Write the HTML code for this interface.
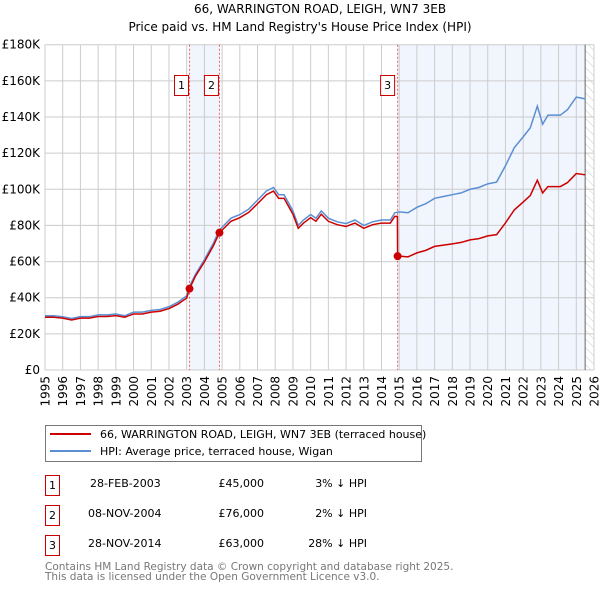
<!DOCTYPE html>
<html><head><meta charset="utf-8"><style>
body{margin:0;background:#fff;font-family:"DejaVu Sans","Liberation Sans",sans-serif;}
svg text{font-family:"DejaVu Sans","Liberation Sans",sans-serif;}
</style></head><body>
<svg id="c" width="600" height="590" xmlns="http://www.w3.org/2000/svg">
<text x="320" y="13" text-anchor="middle" font-size="12">66, WARRINGTON ROAD, LEIGH, WN7 3EB</text>
<text x="300" y="31" text-anchor="middle" font-size="12">Price paid vs. HM Land Registry's House Price Index (HPI)</text>
<g id="plot"></g>
<g>
<rect x="45.5" y="425.5" width="376" height="36" fill="#fff" stroke="#777"/>
<line x1="50" y1="434" x2="91" y2="434" stroke="#cc0000" stroke-width="2"/>
<text x="100" y="438" font-size="11">66, WARRINGTON ROAD, LEIGH, WN7 3EB (terraced house)</text>
<line x1="50" y1="451" x2="91" y2="451" stroke="#5b8fd4" stroke-width="2"/>
<text x="100" y="455" font-size="11">HPI: Average price, terraced house, Wigan</text>
</g>
<g font-size="11">
<rect x="45.5" y="475.5" width="14" height="20" fill="#fff" stroke="#cc0000"/><text x="52.5" y="489" text-anchor="middle">1</text>
<text x="90" y="487">28-FEB-2003</text><text x="264" y="487" text-anchor="end">£45,000</text><text x="367" y="487" text-anchor="end">3% ↓ HPI</text>
<rect x="45.5" y="505.5" width="14" height="20" fill="#fff" stroke="#cc0000"/><text x="52.5" y="519" text-anchor="middle">2</text>
<text x="88" y="517">08-NOV-2004</text><text x="264" y="517" text-anchor="end">£76,000</text><text x="367" y="517" text-anchor="end">2% ↓ HPI</text>
<rect x="45.5" y="535.5" width="14" height="20" fill="#fff" stroke="#cc0000"/><text x="52.5" y="549" text-anchor="middle">3</text>
<text x="88" y="547">28-NOV-2014</text><text x="264" y="547" text-anchor="end">£63,000</text><text x="367" y="547" text-anchor="end">28% ↓ HPI</text>
</g>
<text x="45" y="570" font-size="10.5" fill="#777">Contains HM Land Registry data © Crown copyright and database right 2025.</text>
<text x="45" y="580" font-size="10.5" fill="#777">This data is licensed under the Open Government Licence v3.0.</text>
</svg>
<script>
const hpiYears=[1995,1995.5,1996,1996.5,1997,1997.5,1998,1998.5,1999,1999.5,2000,2000.5,2001,2001.5,2002,2002.5,2003,2003.16,2003.5,2004,2004.5,2004.85,2005,2005.5,2006,2006.5,2007,2007.5,2007.9,2008.2,2008.5,2009,2009.3,2009.6,2010,2010.3,2010.6,2011,2011.5,2012,2012.5,2013,2013.5,2014,2014.5,2014.75,2015,2015.5,2016,2016.5,2017,2017.5,2018,2018.5,2019,2019.5,2020,2020.5,2021,2021.5,2022,2022.4,2022.8,2023.1,2023.4,2024.1,2024.5,2025,2025.5];
const hpiValues=[30,30,29.5,28.5,29.5,29.5,30.5,30.5,31,30,32,32,33,33.5,35,37.5,41,46.4,53,61,70,77.5,79,84,86,89,94,99,101,97,97,88,80,83,86,84,88,84,82,81,83,80,82,83,83,87,87.5,87,90,92,95,96,97,98,100,101,103,104,113,123,129,134,146,136,141,141,144,151,150];
const propYears=[1995,1995.5,1996,1996.5,1997,1997.5,1998,1998.5,1999,1999.5,2000,2000.5,2001,2001.5,2002,2002.5,2003,2003.16,2003.5,2004,2004.5,2004.85,2005,2005.5,2006,2006.5,2007,2007.5,2007.9,2008.2,2008.5,2009,2009.3,2009.6,2010,2010.3,2010.6,2011,2011.5,2012,2012.5,2013,2013.5,2014,2014.5,2014.75,2014.9,2014.91,2015,2015.5,2016,2016.5,2017,2017.5,2018,2018.5,2019,2019.5,2020,2020.5,2021,2021.5,2022,2022.4,2022.8,2023.1,2023.4,2024.1,2024.5,2025,2025.5];
const propValues=[29.2,29.2,28.7,27.7,28.7,28.7,29.6,29.6,30.1,29.2,31,31,32,32.5,34,36.4,39.8,45,52,59.8,68.6,76,77.4,82.3,84.3,87.2,92,97,99,95,95,86.2,78.4,81.3,84.3,82.3,86.2,82.3,80.4,79.4,81.3,78.4,80.4,81.3,81.3,85,85,63,63,62.6,64.8,66.2,68.4,69.1,69.8,70.6,72,72.7,74.2,74.9,81.4,88.6,92.9,96.5,105,98,101.5,101.5,103.7,108.7,108];
const saleYears=[2003.16,2004.85,2014.91];
const saleValues=[45,76,63];
const saleLabels=["1","2","3"];
const yTicks=[0,20,40,60,80,100,120,140,160,180];
const yTickLabels=["£0","£20K","£40K","£60K","£80K","£100K","£120K","£140K","£160K","£180K"];
const xTicks=[1995,1996,1997,1998,1999,2000,2001,2002,2003,2004,2005,2006,2007,2008,2009,2010,2011,2012,2013,2014,2015,2016,2017,2018,2019,2020,2021,2022,2023,2024,2025,2026];

const X0=45,X1=594,Y0=370,Y1=44.7;
const xs=y=>X0+(y-1995)/(2026-1995)*(X1-X0);
const ys=v=>Y0-v/180*(Y0-Y1);
const NS="http://www.w3.org/2000/svg";
const g=document.getElementById('plot');
function mk(t,a){const e=document.createElementNS(NS,t);for(const k in a)e.setAttribute(k,a[k]);g.appendChild(e);return e;}
let e;
e=mk('rect',{x:xs(saleYears[0]),y:Y1,width:xs(saleYears[1])-xs(saleYears[0]),height:Y0-Y1,fill:'#eef3fc',opacity:0.8});


e=mk('rect',{x:xs(saleYears[2]),y:Y1,width:xs(2025.5)-xs(saleYears[2]),height:Y0-Y1,fill:'#eef3fc',opacity:0.8});


const defs=document.createElementNS(NS,'defs');
defs.innerHTML='<pattern id="hatch" width="6" height="6" patternUnits="userSpaceOnUse" patternTransform="rotate(-45)"><line x1="0" y1="0" x2="0" y2="6" stroke="#ccc" stroke-width="1"/></pattern>';
g.appendChild(defs);
e=mk('rect',{x:xs(2025.5),y:Y1,width:X1-xs(2025.5),height:Y0-Y1,fill:'url(#hatch)'});


yTicks.forEach((v,i)=>{
 e=mk('line',{x1:X0,x2:X1,y1:ys(v),y2:ys(v),stroke:'#ccc','stroke-width':1});
 
 
 e=mk('text',{x:X0-5,y:ys(v)+4,'text-anchor':'end','font-size':12});
 e.textContent=yTickLabels[i];
 
 
});
xTicks.forEach(v=>{
 e=mk('line',{x1:xs(v),x2:xs(v),y1:Y1,y2:Y0,stroke:'#ccc','stroke-width':1});
 
 
 const tx=xs(v)+4.5,ty=Y0+6;
 e=mk('text',{x:tx,y:ty,'text-anchor':'end','font-size':12,transform:'rotate(-90 '+tx+' '+ty+')'});
 e.textContent=v;
 
 
});
e=mk('line',{x1:xs(2025.5),x2:xs(2025.5),y1:Y1,y2:Y0,stroke:'#666','stroke-width':1});


saleYears.forEach((s,i)=>{
 e=mk('line',{x1:xs(s),x2:xs(s),y1:Y1,y2:Y0,stroke:'#f06060','stroke-width':1,'stroke-dasharray':'2,2'});
 
 
 const bx=xs(s)-(i==2?10:8);
 e=mk('rect',{x:bx-7,y:75.5,width:14,height:20,fill:'#fff',stroke:'#cc0000'});
 
 
 e=mk('text',{x:bx,y:89,'text-anchor':'middle','font-size':11});
 e.textContent=saleLabels[i];
 
 
});
e=mk('polyline',{points:hpiYears.map((y,i)=>xs(y)+','+ys(hpiValues[i])).join(' '),fill:'none',stroke:'#5b8fd4','stroke-width':1.5});


e=mk('polyline',{points:propYears.map((y,i)=>xs(y)+','+ys(propValues[i])).join(' '),fill:'none',stroke:'#cc0000','stroke-width':1.5});


saleYears.forEach((s,i)=>{
 e=mk('circle',{cx:xs(s),cy:ys(saleValues[i]),r:4,fill:'#cc0000'});
 
 
});
</script>
</body></html>
